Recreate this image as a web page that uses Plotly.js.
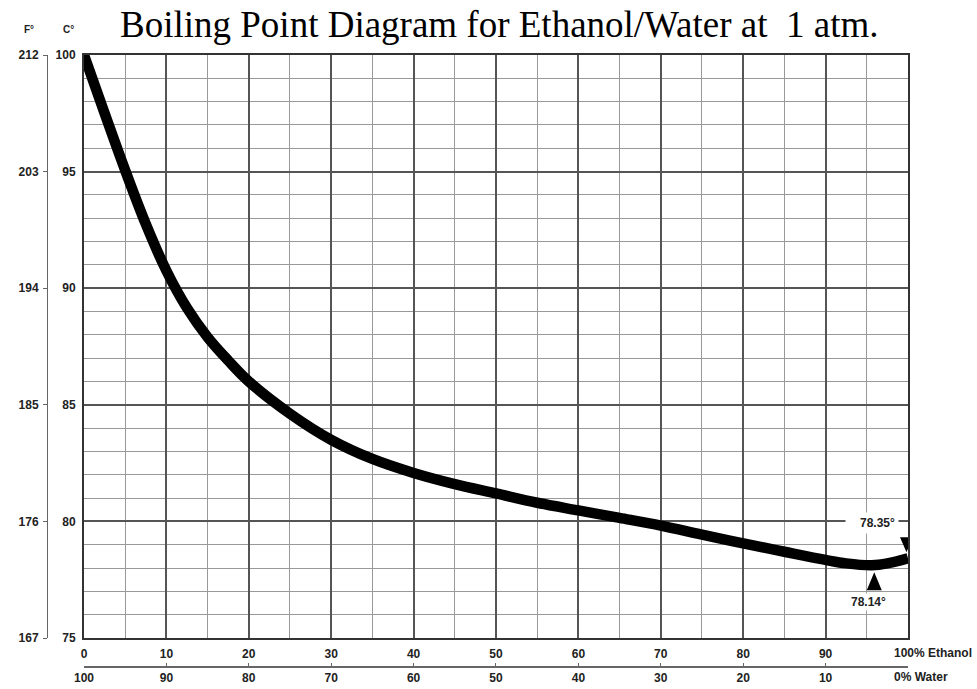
<!DOCTYPE html>
<html>
<head>
<meta charset="utf-8">
<script src="https://cdn.plot.ly/plotly-3.0.1.min.js"></script>
<style>
  html, body { margin: 0; padding: 0; background: #ffffff; }
  #chart { width: 977px; height: 689px; }
</style>
</head>
<body>
<div id="chart"></div>
<script>
// Percent ethanol and boiling temperature in °C
const ethanolPct = [0, 2.5, 5, 7.5, 10, 12.5, 15, 17.5, 20, 25, 30, 35, 40, 45, 50, 55, 60, 65, 70, 75, 80, 85, 90, 92.5, 95.6, 97.5, 100];
const boilC      = [100, 97.5, 95.05, 92.75, 90.75, 89.15, 87.9, 86.9, 86.0, 84.62, 83.5, 82.68, 82.08, 81.6, 81.2, 80.8, 80.47, 80.15, 79.82, 79.43, 79.06, 78.7, 78.35, 78.2, 78.12, 78.2, 78.42];

// Axis ticks
const celsiusTicks = [75, 80, 85, 90, 95, 100];
const fahrenheitText = ['167', '176', '185', '194', '203', '212'];
const ethanolTicks = [0, 10, 20, 30, 40, 50, 60, 70, 80, 90, 100];
const ethanolText = ['0', '10', '20', '30', '40', '50', '60', '70', '80', '90', ''];
const waterTicks = [100, 90, 80, 70, 60, 50, 40, 30, 20, 10, 0];
const waterText = ['100', '90', '80', '70', '60', '50', '40', '30', '20', '10', ''];

// Marked points
const azeoX = 95.6, azeoT = 78.12, azeoLabel = '78.14°';
const pureX = 100, pureT = 78.42, pureLabel = '78.35°';

const waterPct = ethanolPct.map(e => 100 - e);

const labelFont = { family: 'Liberation Sans, Arial, sans-serif', size: 12, color: '#222', weight: 'bold' };
const headFont = { family: 'Liberation Sans, Arial, sans-serif', size: 10, color: '#222', weight: 'bold' };

const curve = {
  x: ethanolPct, y: boilC, type: 'scatter', mode: 'lines',
  line: { color: '#000', width: 10.5, shape: 'spline', smoothing: 1 },
  hoverinfo: 'skip', showlegend: false, xaxis: 'x', yaxis: 'y'
};
// same curve expressed on the water / Fahrenheit scales (transparent, keeps those axes drawn)
const curveWater = {
  x: waterPct, y: boilC, type: 'scatter', mode: 'lines',
  line: { color: 'rgba(0,0,0,0)', width: 1 },
  hoverinfo: 'skip', showlegend: false, xaxis: 'x2', yaxis: 'y2'
};

const layout = {
  width: 977, height: 689,
  margin: { l: 10, r: 69, t: 55, b: 23, pad: 0 },
  paper_bgcolor: '#fff', plot_bgcolor: '#fff',
  showlegend: false,
  title: {
    text: 'Boiling Point Diagram for Ethanol/Water at  1 atm.',
    font: { family: 'Liberation Serif, Times New Roman, serif', size: 37, color: '#000' },
    xref: 'container', yref: 'container', x: 0.511, xanchor: 'center', y: 0.965, yanchor: 'middle'
  },
  xaxis: {
    domain: [0.0824, 1], range: [0, 100], tickmode: 'array', tickvals: ethanolTicks, ticktext: ethanolText,
    showgrid: true, gridcolor: '#555', gridwidth: 2,
    minor: { dtick: 5, showgrid: true, gridcolor: '#999', gridwidth: 1 },
    showline: true, linecolor: '#333', linewidth: 2, mirror: true,
    ticks: '', tickfont: labelFont, ticklabelstandoff: 4, zeroline: false, fixedrange: true
  },
  yaxis: {
    domain: [0.0458, 1], range: [75, 100], tickmode: 'array', tickvals: celsiusTicks,
    showgrid: true, gridcolor: '#555', gridwidth: 2,
    minor: { dtick: 1, showgrid: true, gridcolor: '#999', gridwidth: 1 },
    showline: true, linecolor: '#333', linewidth: 2, mirror: true,
    ticks: '', tickfont: labelFont, ticklabelstandoff: 4, zeroline: false, fixedrange: true
  },
  yaxis2: {
    overlaying: 'y', anchor: 'free', position: 0.0412, side: 'left',
    range: [75, 100], tickmode: 'array', tickvals: celsiusTicks, ticktext: fahrenheitText,
    showgrid: false, showline: true, linecolor: '#666', linewidth: 1.5,
    ticks: 'outside', ticklen: 4, tickcolor: '#666', tickfont: labelFont, ticklabelstandoff: 2, zeroline: false, fixedrange: true
  },
  xaxis2: {
    overlaying: 'x', anchor: 'free', position: 0, side: 'bottom',
    range: [100, 0], tickmode: 'array', tickvals: waterTicks, ticktext: waterText,
    showgrid: false, showline: true, linecolor: '#666', linewidth: 1.5,
    ticks: 'inside', ticklen: 3, tickcolor: '#666', tickfont: labelFont, ticklabelstandoff: 0, zeroline: false, fixedrange: true
  },
  shapes: [
    { type: 'path', xref: 'x', yref: 'y', xsizemode: 'pixel', ysizemode: 'pixel',
      xanchor: pureX, yanchor: pureT, path: 'M -8,21 L 5,21 L -1.5,6 Z',
      fillcolor: '#000', line: { width: 0 } },
    { type: 'path', xref: 'x', yref: 'y', xsizemode: 'pixel', ysizemode: 'pixel',
      xanchor: azeoX, yanchor: azeoT, path: 'M -5,-25 L 10,-25 L 2.5,-7 Z',
      fillcolor: '#000', line: { width: 0 } }
  ],
  annotations: [
    { text: 'F°', xref: 'paper', yref: 'paper', x: 0, y: 1, xanchor: 'center', yanchor: 'middle', xshift: 19, yshift: 26, showarrow: false, font: headFont },
    { text: 'C°', xref: 'paper', yref: 'paper', x: 0, y: 1, xanchor: 'center', yanchor: 'middle', xshift: 58, yshift: 26, showarrow: false, font: headFont },
    { text: '100% Ethanol', xref: 'x', yref: 'paper', x: 100, y: 0, xanchor: 'left', yanchor: 'middle', xshift: -16, yshift: 13, showarrow: false, font: labelFont },
    { text: '0% Water', xref: 'x', yref: 'paper', x: 100, y: 0, xanchor: 'left', yanchor: 'middle', xshift: -16, yshift: -11, showarrow: false, font: labelFont },
    { text: pureLabel, xref: 'x', yref: 'y', x: pureX, y: pureT, xanchor: 'right', yanchor: 'middle', xshift: -9, yshift: 35, showarrow: false, font: labelFont, bgcolor: '#fff', borderpad: 3, width: 46, align: 'right' },
    { text: azeoLabel, xref: 'x', yref: 'y', x: azeoX, y: azeoT, xanchor: 'center', yanchor: 'middle', xshift: -3, yshift: -37, showarrow: false, font: labelFont, bgcolor: '#fff', borderpad: 1 }
  ]
};

Plotly.newPlot('chart', [curve, curveWater], layout, { displayModeBar: false, staticPlot: true });
</script>
</body>
</html>
